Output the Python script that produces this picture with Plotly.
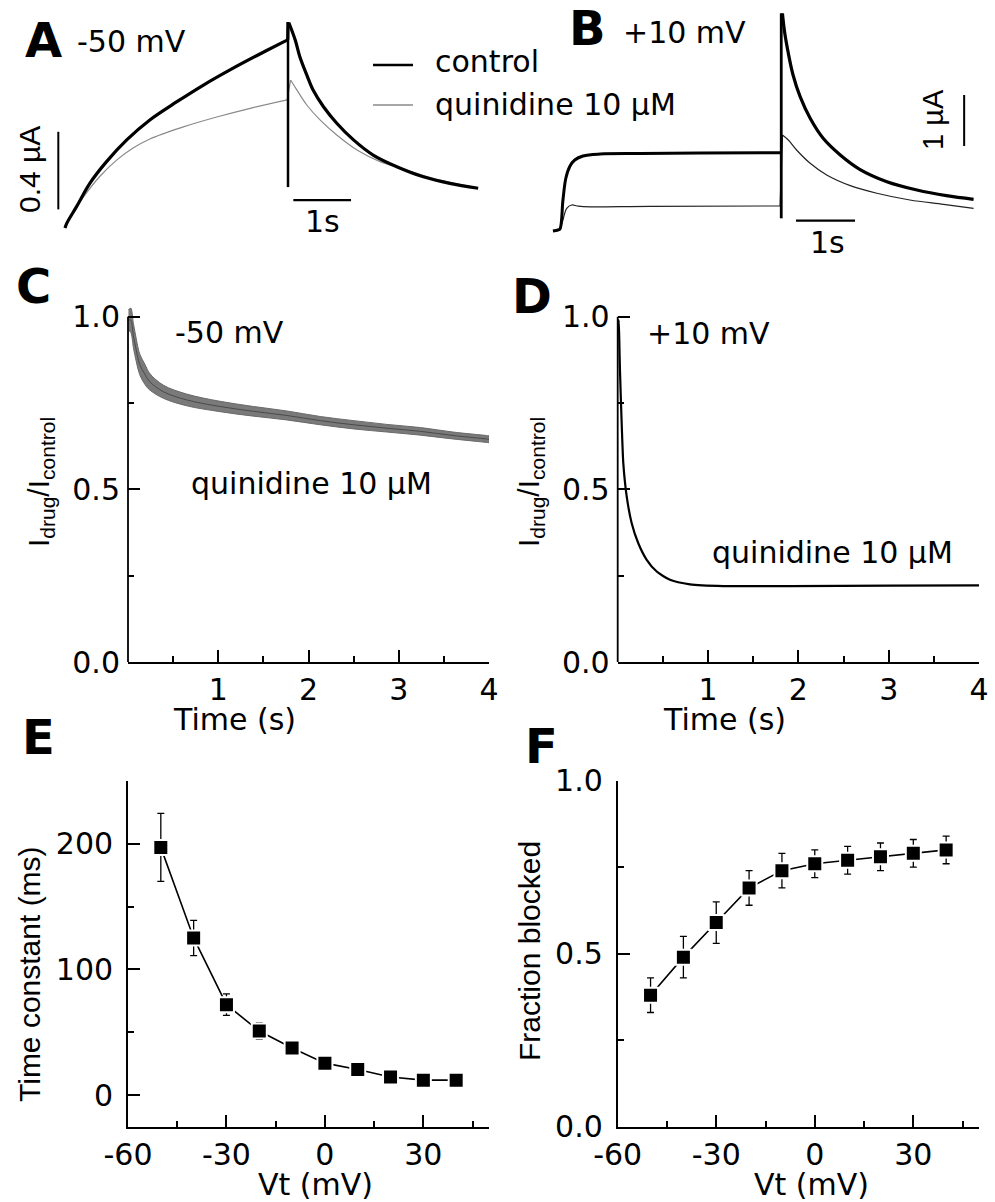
import plotly.graph_objects as go

W, H = 995, 1202

# ---------------- Panel A: currents at -50 mV (time in s, current in uA) ----------------
a_ctrl_t = [0.0, 0.03, 0.20, 0.43, 0.72, 1.07, 1.47, 1.94, 2.40, 2.86, 3.32, 3.78, 3.86]
a_ctrl_i = [0.0, 0.024, 0.110, 0.230, 0.342, 0.454, 0.557, 0.651, 0.737, 0.815, 0.888, 0.958, 0.970]
a_ctrl_tail_t = [3.88, 3.99, 4.07, 4.19, 4.30, 4.48, 4.71, 5.00, 5.34, 5.75, 6.21, 6.67, 7.16]
a_ctrl_tail_i = [1.058, 0.969, 0.883, 0.789, 0.711, 0.625, 0.540, 0.454, 0.376, 0.316, 0.264, 0.230, 0.205]
a_step_t = [3.865, 3.865]
a_step_i = [1.062, 0.211]

a_quin_t = [0.0, 0.03, 0.17, 0.32, 0.61, 0.90, 1.18, 1.47, 2.05, 2.63, 3.21, 3.85]
a_quin_i = [0.0, 0.026, 0.093, 0.160, 0.268, 0.351, 0.412, 0.459, 0.521, 0.572, 0.617, 0.660]
a_quin_tail_t = [3.91, 4.02, 4.19, 4.42, 4.71, 5.06, 5.46, 5.92, 6.38, 7.16]
a_quin_tail_i = [0.763, 0.711, 0.634, 0.557, 0.479, 0.402, 0.342, 0.299, 0.256, 0.205]

# ---------------- Panel B: currents at +10 mV ----------------
b_ctrl_t = [-0.12, -0.034, 0.0, 0.05, 0.10, 0.17, 0.25, 0.39, 0.68, 1.36, 2.37, 3.73]
b_ctrl_i = [-0.02, 0.0, 0.02, 0.588, 1.02, 1.255, 1.373, 1.451, 1.490, 1.500, 1.510, 1.516]
b_ctrl_tail_t = [3.77, 3.81, 3.87, 3.95, 4.07, 4.24, 4.46, 4.75, 5.08, 5.54, 6.05, 6.55, 7.01]
b_ctrl_tail_i = [4.249, 3.857, 3.465, 3.039, 2.614, 2.190, 1.798, 1.471, 1.190, 0.947, 0.784, 0.673, 0.602]
b_step_t = [3.75, 3.75]
b_step_i = [4.249, 0.229]

b_quin_t = [0.0, 0.05, 0.114, 0.198, 0.29, 0.395, 1.53, 3.73]
b_quin_i = [0.0, 0.196, 0.425, 0.490, 0.471, 0.457, 0.465, 0.471]
b_quin_tail_t = [3.77, 3.87, 4.01, 4.24, 4.52, 4.92, 5.37, 5.93, 6.50, 7.01]
b_quin_tail_i = [1.863, 1.765, 1.569, 1.308, 1.078, 0.869, 0.720, 0.588, 0.504, 0.425]

# ---------------- Panel C: Idrug/Icontrol at -50 mV ----------------
c_time = [0.005, 0.03, 0.06, 0.09, 0.13, 0.19, 0.24, 0.39, 0.65, 1.02, 1.39, 1.76,
          2.13, 2.50, 2.87, 3.24, 3.60, 3.97, 4.0]
c_ratio = [0.990, 0.990, 0.945, 0.905, 0.862, 0.832, 0.812, 0.783, 0.759, 0.740, 0.726, 0.714,
           0.699, 0.687, 0.677, 0.668, 0.656, 0.646, 0.645]
c_spread = [0.030, 0.035, 0.035, 0.033, 0.030, 0.029, 0.024, 0.019, 0.017, 0.015, 0.014, 0.013,
            0.012, 0.012, 0.011, 0.011, 0.010, 0.010, 0.010]

# ---------------- Panel D: Idrug/Icontrol at +10 mV ----------------
d_time = [0.004, 0.012, 0.020, 0.025, 0.044, 0.062, 0.10, 0.155, 0.228, 0.321, 0.432,
          0.579, 0.80, 1.17, 1.91, 3.02, 4.0]
d_ratio = [0.97, 0.99, 0.90, 0.846, 0.692, 0.576, 0.479, 0.402, 0.344, 0.296, 0.262,
           0.238, 0.225, 0.220, 0.220, 0.221, 0.222]

# ---------------- Panels E, F: voltage dependence ----------------
vt = [-50, -40, -30, -20, -10, 0, 10, 20, 30, 40]
tau_ms = [197, 125, 72, 51, 37.5, 25.5, 20.5, 14.5, 12, 12]
tau_err = [27, 14, 8.5, 6.5, 3, 2, 2, 2, 2, 2]
frac_blocked = [0.38, 0.49, 0.59, 0.69, 0.74, 0.76, 0.77, 0.78, 0.79, 0.80]
frac_err = [0.05, 0.06, 0.06, 0.05, 0.05, 0.04, 0.04, 0.04, 0.04, 0.04]

SCALE_T = 1.0      # s
SCALE_A = 0.4      # uA (panel A)
SCALE_B = 1.0      # uA (panel B)

FONT = "DejaVu Sans"
FONT_R = "Liberation Sans"
GRAY = "#8a8a8a"
BAND = "#7a7a7a"


def xdom(p0, p1):
    return [p0 / W, p1 / W]


def ydom(top, bottom):
    return [1 - bottom / H, 1 - top / H]


def px(x):
    return x / W


def py(y):
    return 1 - y / H


fig = go.Figure()

# ---- A ----
fig.add_trace(go.Scatter(x=a_quin_t, y=a_quin_i, mode="lines", line=dict(color=GRAY, width=1.2, shape="spline"),
                         xaxis="x", yaxis="y"))
fig.add_trace(go.Scatter(x=[a_quin_t[-1], a_quin_tail_t[0]], y=[a_quin_i[-1], a_quin_tail_i[0]], mode="lines",
                         line=dict(color=GRAY, width=1.2), xaxis="x", yaxis="y"))
fig.add_trace(go.Scatter(x=a_quin_tail_t, y=a_quin_tail_i, mode="lines", line=dict(color=GRAY, width=1.2, shape="spline"),
                         xaxis="x", yaxis="y"))
fig.add_trace(go.Scatter(x=a_ctrl_t, y=a_ctrl_i, mode="lines", line=dict(color="black", width=3.2, shape="spline"),
                         xaxis="x", yaxis="y"))
fig.add_trace(go.Scatter(x=[a_ctrl_t[-1], a_step_t[0]], y=[a_ctrl_i[-1], a_step_i[0]], mode="lines",
                         line=dict(color="black", width=3.2), xaxis="x", yaxis="y"))
fig.add_trace(go.Scatter(x=a_step_t, y=a_step_i, mode="lines", line=dict(color="black", width=2.5),
                         xaxis="x", yaxis="y"))
fig.add_trace(go.Scatter(x=a_ctrl_tail_t, y=a_ctrl_tail_i, mode="lines", line=dict(color="black", width=3.2, shape="spline"),
                         xaxis="x", yaxis="y"))

# ---- B ----
fig.add_trace(go.Scatter(x=b_quin_t, y=b_quin_i, mode="lines", line=dict(color="#222", width=1.2, shape="spline"),
                         xaxis="x2", yaxis="y2"))
fig.add_trace(go.Scatter(x=[b_quin_t[-1], b_quin_tail_t[0]], y=[b_quin_i[-1], b_quin_tail_i[0]], mode="lines",
                         line=dict(color="#222", width=1.2), xaxis="x2", yaxis="y2"))
fig.add_trace(go.Scatter(x=b_quin_tail_t, y=b_quin_tail_i, mode="lines", line=dict(color="#222", width=1.2, shape="spline"),
                         xaxis="x2", yaxis="y2"))
fig.add_trace(go.Scatter(x=b_ctrl_t, y=b_ctrl_i, mode="lines", line=dict(color="black", width=3.0, shape="spline"),
                         xaxis="x2", yaxis="y2"))
fig.add_trace(go.Scatter(x=b_step_t, y=b_step_i, mode="lines", line=dict(color="black", width=2.8),
                         xaxis="x2", yaxis="y2"))
fig.add_trace(go.Scatter(x=b_ctrl_tail_t, y=b_ctrl_tail_i, mode="lines", line=dict(color="black", width=3.2, shape="spline"),
                         xaxis="x2", yaxis="y2"))

# ---- C (noisy band drawn as an envelope) ----
c_upper = [r + s for r, s in zip(c_ratio, c_spread)]
c_lower = [r - s for r, s in zip(c_ratio, c_spread)]
fig.add_trace(go.Scatter(x=c_time, y=c_upper, mode="lines", line=dict(color="#6a6a6a", width=1.0, shape="spline"),
                         xaxis="x3", yaxis="y3"))
fig.add_trace(go.Scatter(x=c_time, y=c_lower, mode="lines", line=dict(color="#6a6a6a", width=1.0, shape="spline"),
                         fill="tonexty", fillcolor=BAND, xaxis="x3", yaxis="y3"))
fig.add_trace(go.Scatter(x=c_time, y=c_ratio, mode="lines", line=dict(color="#4a4a4a", width=1.0, shape="spline"),
                         xaxis="x3", yaxis="y3"))

# ---- D ----
fig.add_trace(go.Scatter(x=d_time, y=d_ratio, mode="lines", line=dict(color="black", width=2.2, shape="spline", smoothing=0.6),
                         xaxis="x4", yaxis="y4"))

# ---- E, F ----
marker = dict(symbol="square", size=15, color="black", line=dict(color="white", width=2))
fig.add_trace(go.Scatter(x=vt, y=tau_ms, mode="lines+markers", marker=marker,
                         line=dict(color="black", width=1.6),
                         error_y=dict(type="data", array=tau_err, color="black", thickness=1.3, width=3.5),
                         xaxis="x5", yaxis="y5"))
fig.add_trace(go.Scatter(x=vt, y=frac_blocked, mode="lines+markers", marker=marker,
                         line=dict(color="black", width=1.6),
                         error_y=dict(type="data", array=frac_err, color="black", thickness=1.3, width=3.5),
                         xaxis="x6", yaxis="y6"))

tickfont = dict(family=FONT, size=30, color="black")


def data_axis(domain, rng, anchor, major, labels, minor, showline=True, standoff=7):
    return dict(domain=domain, range=rng, anchor=anchor, showgrid=False, zeroline=False,
                automargin=False,
                showline=showline, linecolor="black", linewidth=1.8, mirror=False,
                ticks="inside", ticklen=12, tickwidth=1.6, tickcolor="black",
                tickmode="array", tickvals=major, ticktext=labels, tickfont=tickfont,
                ticklabelstandoff=standoff,
                minor=dict(tickmode="array", tickvals=minor, ticks="inside", ticklen=6,
                           tickwidth=1.6, tickcolor="black"),
                fixedrange=True)


# pixel calibration of the trace panels
A_X0, A_PPS = 65, 57.7      # x pixel of t=0, pixels per second
A_Y0, A_PPU = 228, 194      # y pixel of I=0, pixels per uA
B_X0, B_PPS = 560, 59
B_Y0, B_PPU = 230, 51

hidden = dict(visible=False, showgrid=False, zeroline=False, fixedrange=True, automargin=False)

C_TOP, C_BOT = 300, 662
C_PPU = 345.3
XSTAND = 0

layout_axes = dict(
    xaxis=dict(hidden, domain=xdom(40, 495), range=[(40 - A_X0) / A_PPS, (495 - A_X0) / A_PPS], anchor="y"),
    yaxis=dict(hidden, domain=ydom(5, 245), range=[(A_Y0 - 245) / A_PPU, (A_Y0 - 5) / A_PPU], anchor="x"),
    xaxis2=dict(hidden, domain=xdom(540, 990), range=[(540 - B_X0) / B_PPS, (990 - B_X0) / B_PPS], anchor="y2"),
    yaxis2=dict(hidden, domain=ydom(5, 245), range=[(B_Y0 - 245) / B_PPU, (B_Y0 - 5) / B_PPU], anchor="x2"),
    xaxis3=data_axis(xdom(128, 489), [0, 4], "y3", [1, 2, 3, 4], ["1", "2", "3", "4"], [0.5, 1.5, 2.5, 3.5],
                     standoff=XSTAND),
    yaxis3=data_axis(ydom(C_TOP, C_BOT), [0, (C_BOT - C_TOP) / C_PPU], "x3", [0, 0.5, 1.0], ["0.0", "0.5", "1.0"],
                     [0.25, 0.75], showline=False),
    xaxis4=data_axis(xdom(617.7, 979), [0, 4], "y4", [1, 2, 3, 4], ["1", "2", "3", "4"], [0.5, 1.5, 2.5, 3.5],
                     standoff=XSTAND),
    yaxis4=data_axis(ydom(C_TOP, C_BOT), [0, (C_BOT - C_TOP) / C_PPU], "x4", [0, 0.5, 1.0], ["0.0", "0.5", "1.0"],
                     [0.25, 0.75], showline=False),
    xaxis5=data_axis(xdom(128, 489), [-60, 50], "y5", [-60, -30, 0, 30], ["-60", "-30", "0", "30"], [-45, -15, 15, 45],
                     standoff=XSTAND),
    yaxis5=data_axis(ydom(780.7, 1126.7), [-25, 250], "x5", [0, 100, 200], ["0", "100", "200"], [50, 150, 250]),
    xaxis6=data_axis(xdom(617.7, 979), [-60, 50], "y6", [-60, -30, 0, 30], ["-60", "-30", "0", "30"], [-45, -15, 15, 45],
                     standoff=XSTAND),
    yaxis6=data_axis(ydom(780.7, 1126.7), [0, 1], "x6", [0, 0.5, 1.0], ["0.0", "0.5", "1.0"], [0.25, 0.75]),
)

shapes = []
# y axis lines of C and D stop at 1.0
for x_left in (128, 617.7):
    shapes.append(dict(type="line", xref="paper", yref="paper", x0=px(x_left), x1=px(x_left),
                       y0=py(C_BOT), y1=py(C_BOT - C_PPU), line=dict(color="black", width=1.8)))

# scale bars (data coordinates)
shapes += [
    dict(type="line", xref="x", yref="y", x0=-0.116, x1=-0.116, y0=0.096, y1=0.096 + SCALE_A,
         line=dict(color="black", width=2)),
    dict(type="line", xref="x", yref="y", x0=3.957, x1=3.957 + SCALE_T, y0=0.144, y1=0.144,
         line=dict(color="black", width=2.2)),
    dict(type="line", xref="x2", yref="y2", x0=6.85, x1=6.85, y0=1.647, y1=1.647 + SCALE_B,
         line=dict(color="black", width=2)),
    dict(type="line", xref="x2", yref="y2", x0=4.0, x1=4.0 + SCALE_T, y0=0.182, y1=0.182,
         line=dict(color="black", width=2.2)),
]

# legend keys
shapes += [
    dict(type="line", xref="paper", yref="paper", x0=px(373), x1=px(413), y0=py(65), y1=py(65),
         line=dict(color="black", width=2.6)),
    dict(type="line", xref="paper", yref="paper", x0=px(373), x1=px(413), y0=py(105), y1=py(105),
         line=dict(color=GRAY, width=1.3)),
]


def note(text, x, y, size=30, family=FONT, angle=0, xanchor="center"):
    return dict(text=text, x=px(x), y=py(y), xref="paper", yref="paper", showarrow=False,
                xanchor=xanchor, yanchor="middle", textangle=angle,
                font=dict(family=family, size=size, color="black"))


annotations = [
    note("<b>A</b>", 43, 40, size=48),
    note("<b>B</b>", 587, 28, size=48),
    note("<b>C</b>", 33, 286, size=48),
    note("<b>D</b>", 532, 296, size=48),
    note("<b>E</b>", 38, 737, size=48),
    note("<b>F</b>", 541, 746, size=48),
    note("-50 mV", 131, 42),
    note("+10 mV", 684, 33),
    note("control", 433, 62, xanchor="left"),
    note("quinidine 10 µM", 433, 104, xanchor="left"),
    note("0.4 µA", 30, 170, family=FONT_R, angle=-90),
    note("1s", 322, 221),
    note("1 µA", 933, 120, family=FONT_R, size=29, angle=-90),
    note("1s", 827, 242),
    note("-50 mV", 229, 333),
    note("quinidine 10 µM", 311, 484),
    note("+10 mV", 708, 334),
    note("quinidine 10 µM", 832, 552),
    note("I<sub>drug</sub>/I<sub>control</sub>", 40, 482, family=FONT_R, angle=-90),
    note("I<sub>drug</sub>/I<sub>control</sub>", 530, 482, family=FONT_R, angle=-90),
    note("Time (s)", 234, 719),
    note("Time (s)", 724, 719),
    note("Time constant (ms)", 30, 974, family=FONT_R, angle=-90),
    note("Fraction blocked", 529, 951, family=FONT_R, angle=-90),
    note("Vt (mV)", 315, 1184),
    note("Vt (mV)", 811, 1184),
]

fig.update_layout(
    width=W, height=H, margin=dict(l=0, r=0, t=0, b=0, autoexpand=False),
    paper_bgcolor="white", plot_bgcolor="white",
    showlegend=False, shapes=shapes, annotations=annotations,
    **layout_axes,
)

fig.write_html("out.html", config=dict(displayModeBar=False))
